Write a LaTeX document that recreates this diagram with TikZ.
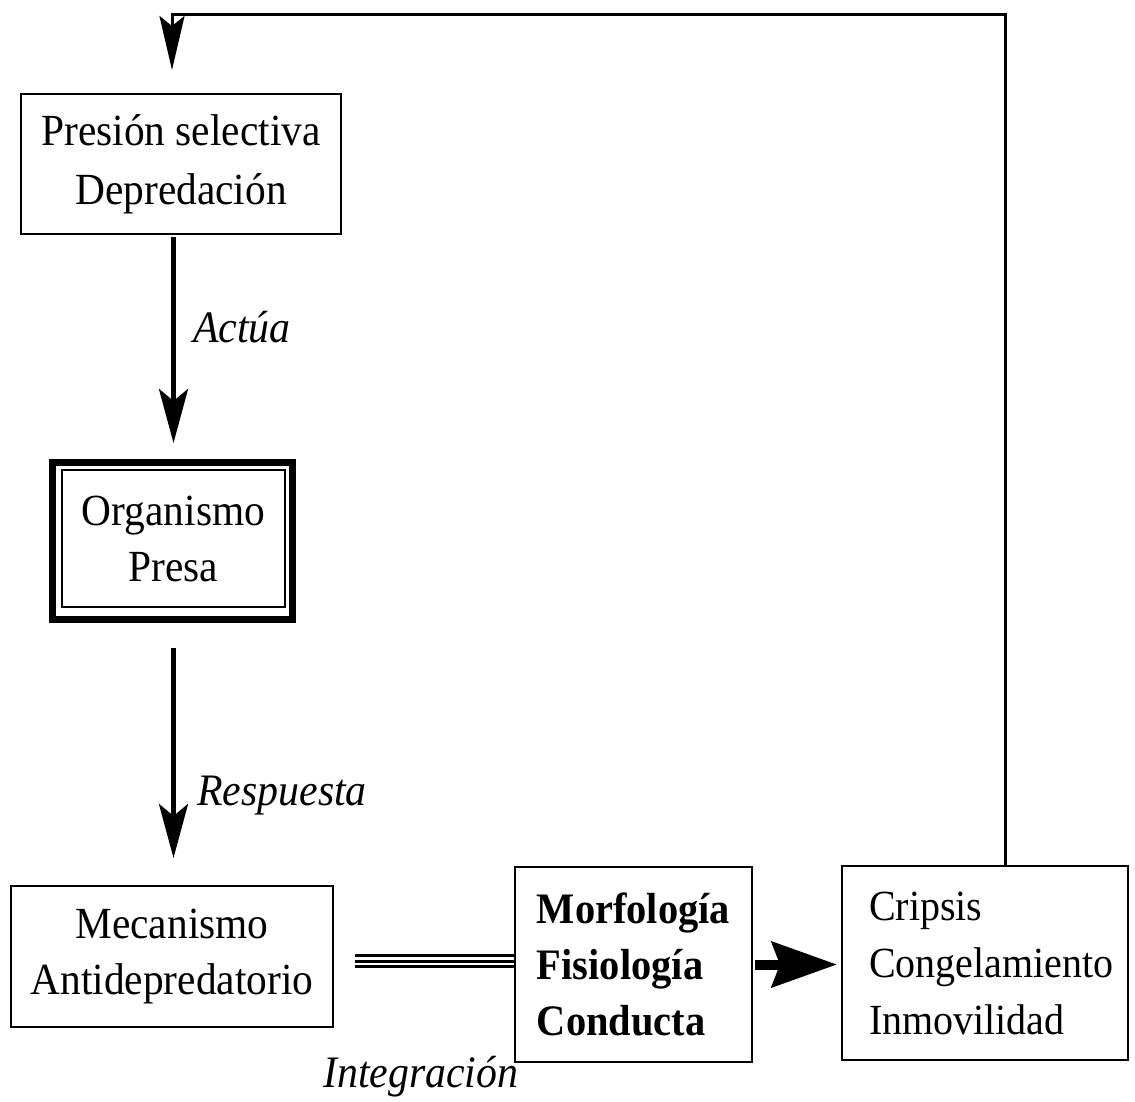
\documentclass[tikz,border=0pt]{standalone}
\usepackage{fontspec}
\setmainfont{Liberation Serif}[FakeStretch=0.93]
\usetikzlibrary{arrows.meta,calc}
\begin{document}
\begin{tikzpicture}[x=1pt,y=-1pt,
  box/.style={draw,line width=2pt,inner sep=0pt,outer sep=0pt,align=center,font=\fontsize{44.5}{56}\selectfont},
  lbl/.style={font=\fontsize{45}{50}\selectfont\itshape,inner sep=0pt,anchor=base west},
  arr/.style={line width=4.5pt,-{Stealth[length=54pt,width=29pt,inset=12pt]}},
]
\useasboundingbox (0,0) rectangle (1135,1101);

% boxes
\node[box,minimum width=320pt,minimum height=140pt,font=\fontsize{44.5}{59}\selectfont] (b1) at (181,164) {Presión selectiva\\Depredación};
\node[box,minimum width=223pt,minimum height=137pt] (b2) at (173.5,538.5) {Organismo\\Presa};
\draw[line width=7pt] ([shift={(-10pt,8pt)}]b2.north west) rectangle ([shift={(7pt,-12pt)}]b2.south east);
\node[box,minimum width=322pt,minimum height=141pt] (b3) at (172,956.5) {Mecanismo\\Antidepredatorio};
\node[box,align=left,minimum width=237pt,minimum height=195pt,font=\fontsize{43.5}{56}\selectfont\bfseries] (b4) at (633.5,964.5) {Morfología\\Fisiología\\Conducta};
\node[box,align=left,text width=232pt,minimum width=286pt,minimum height=194pt,font=\fontsize{43}{57}\selectfont] (b5) at (985,963) {\mbox{Cripsis}\\\mbox{Congelamiento}\\\mbox{Inmovilidad}};

% connectors
\draw[arr,shorten <=3pt,shorten >=27pt] (b1.south -| b2.north) -- (b2.north);
\draw[arr,shorten <=41pt,shorten >=28pt] (b2.south) -- (b2.south |- b3.north);

\foreach \d in {9,3.5,-2}
  \draw[line width=3pt] ($(b3.east |- b4.west)+(22pt,\d pt)$) -- ($(b4.west)+(0pt,\d pt)$);

\draw[line width=10pt,-{Stealth[length=65pt,width=45pt,inset=8pt]},shorten <=3pt,shorten >=5pt] (b4.east) -- (b4.east -| b5.west);

\coordinate (fbR) at (1005,14);
\coordinate (fbL) at (172,14);
\draw[line width=3pt,-{Stealth[length=54pt,width=25pt,inset=10pt]},shorten >=24pt] (fbR |- b5.north) -- (fbR) -- (fbL) -- (fbL |- b1.north);

% labels
\node[lbl] (lact) at (193,342) {Actúa};
\node[lbl] (lresp) at (197,805) {Respuesta};
\node[lbl] (lint) at (323,1087) {Integración};
\end{tikzpicture}
\end{document}
